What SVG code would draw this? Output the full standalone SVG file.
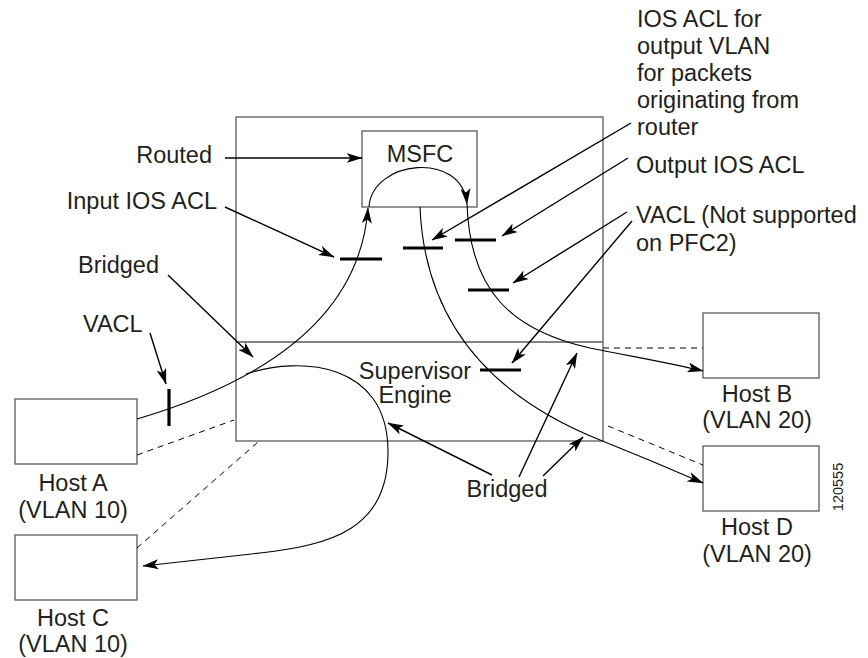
<svg xmlns="http://www.w3.org/2000/svg" width="868" height="658" viewBox="0 0 868 658">
<defs>
<marker id="ah" viewBox="0 0 16 10" refX="15.5" refY="5" markerWidth="16" markerHeight="10" markerUnits="userSpaceOnUse" orient="auto">
<path d="M0,0 L16,5 L0,10 L4,5 z" fill="#000"/>
</marker>
<style>
text{font-family:"Liberation Sans",Arial,sans-serif;font-size:23.5px;fill:#231f20}
.box{fill:#fff;stroke:#5a5a5a;stroke-width:1.3}
.flow{fill:none;stroke:#000;stroke-width:1.1}
.lead{fill:none;stroke:#000;stroke-width:1.4}
.tick{stroke:#000;stroke-width:3.2}
.dash{fill:none;stroke:#000;stroke-width:1;stroke-dasharray:6,5}
.m{text-anchor:middle}
.e{text-anchor:end}
</style>
</defs>
<rect width="868" height="658" fill="#fff"/>

<g id="switch">
<rect class="box" x="236" y="117" width="367" height="324"/>
<line x1="236" y1="342" x2="603" y2="342" stroke="#5a5a5a" stroke-width="1.3"/>
<text class="m" x="415" y="379">Supervisor</text>
<text class="m" x="415" y="403">Engine</text>
</g>
<g id="msfc">
<rect class="box" x="362" y="131" width="115" height="76"/>
<text class="m" x="420" y="162">MSFC</text>
</g>
<g id="hostA">
<rect class="box" x="15" y="399" width="122" height="65"/>
<text class="m" x="73" y="491">Host A</text>
<text class="m" x="73" y="518">(VLAN 10)</text>
</g>
<g id="hostC">
<rect class="box" x="15" y="535" width="122" height="65"/>
<text class="m" x="73" y="626">Host C</text>
<text class="m" x="73" y="652">(VLAN 10)</text>
</g>
<g id="hostB">
<rect class="box" x="703" y="313" width="116" height="65"/>
<text class="m" x="757" y="402">Host B</text>
<text class="m" x="757" y="428">(VLAN 20)</text>
</g>
<g id="hostD">
<rect class="box" x="703" y="446" width="116" height="65"/>
<text class="m" x="757" y="535">Host D</text>
<text class="m" x="757" y="562">(VLAN 20)</text>
</g>

<g id="labels">
<text class="e" x="212" y="163">Routed</text>
<text class="e" x="217" y="209">Input IOS ACL</text>
<text x="78" y="273">Bridged</text>
<text x="83" y="332">VACL</text>
<text x="637" y="27">IOS ACL for</text>
<text x="637" y="54">output VLAN</text>
<text x="637" y="81">for packets</text>
<text x="637" y="108">originating from</text>
<text x="637" y="135">router</text>
<text x="636" y="173">Output IOS ACL</text>
<text x="636" y="223">VACL (Not supported</text>
<text x="636" y="251">on PFC2)</text>
<text class="m" x="507" y="497">Bridged</text>
<text class="m" transform="translate(843,487) rotate(-90)" style="font-size:14.5px">120555</text>
</g>

<g id="connectors">
<line class="dash" x1="137" y1="455" x2="234" y2="420"/>
<line class="dash" x1="137" y1="548" x2="258" y2="442"/>
<line class="dash" x1="603" y1="348" x2="703" y2="348"/>
<line class="dash" x1="608" y1="426" x2="703" y2="465"/>

<path class="flow" d="M137,419 C262,382 360,318 368,208" marker-end="url(#ah)"/>
<path class="flow" d="M369,207 C372,160 462,150 467,204" marker-end="url(#ah)"/>
<path class="flow" d="M467,204 C470,290 510,330 590,348 C640,358 670,363 703,371" marker-end="url(#ah)"/>
<path class="flow" d="M420,207 C425,330 500,400 600,440 C640,456 680,473 703,483" marker-end="url(#ah)"/>
<path class="flow" d="M246,374 C300,356 387,362 388,450 C389,530 330,545 260,553 L143,566" marker-end="url(#ah)"/>

<line class="tick" x1="169" y1="389" x2="169" y2="426"/>
<line class="tick" x1="340" y1="259" x2="382" y2="259"/>
<line class="tick" x1="403" y1="248" x2="443" y2="248"/>
<line class="tick" x1="455" y1="240" x2="496" y2="240"/>
<line class="tick" x1="468" y1="290" x2="509" y2="290"/>
<line class="tick" x1="480" y1="370" x2="521" y2="370"/>

<line class="lead" x1="225" y1="158" x2="362" y2="158" marker-end="url(#ah)"/>
<line class="lead" x1="225" y1="207" x2="334" y2="257" marker-end="url(#ah)"/>
<line class="lead" x1="168" y1="275" x2="253" y2="357" marker-end="url(#ah)"/>
<line class="lead" x1="150" y1="333" x2="166" y2="384" marker-end="url(#ah)"/>
<line class="lead" x1="631" y1="123" x2="432" y2="240" marker-end="url(#ah)"/>
<line class="lead" x1="628" y1="158" x2="502" y2="236" marker-end="url(#ah)"/>
<line class="lead" x1="627" y1="212" x2="513" y2="283" marker-end="url(#ah)"/>
<line class="lead" x1="632" y1="221" x2="512" y2="363" marker-end="url(#ah)"/>
<line class="lead" x1="492" y1="475" x2="388" y2="423" marker-end="url(#ah)"/>
<line class="lead" x1="519" y1="477" x2="577" y2="353" marker-end="url(#ah)"/>
<line class="lead" x1="543" y1="476" x2="583" y2="437" marker-end="url(#ah)"/>
</g>
</svg>
